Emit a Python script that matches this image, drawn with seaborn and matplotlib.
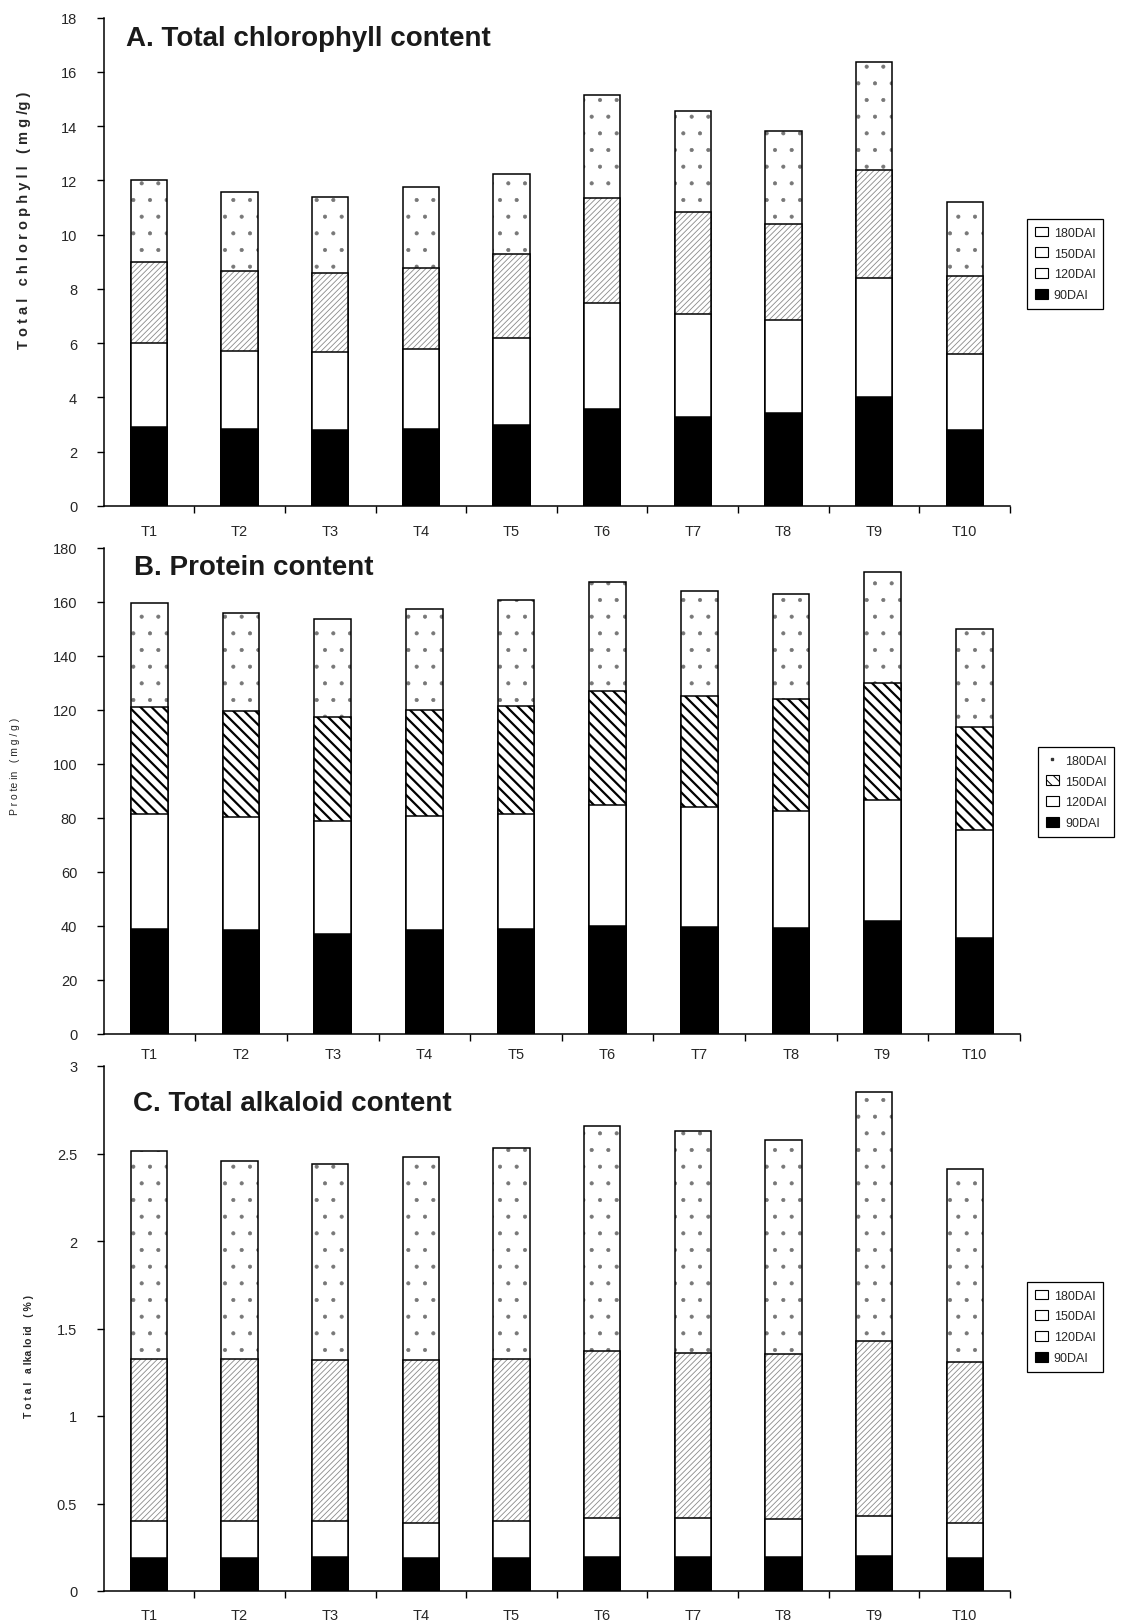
import numpy as np
import pandas as pd
import matplotlib
matplotlib.use("Agg")
import matplotlib.pyplot as plt
import seaborn as sns
from matplotlib.patches import Patch
from matplotlib.lines import Line2D

# ---------------- data ----------------
treatments = ["T1", "T2", "T3", "T4", "T5", "T6", "T7", "T8", "T9", "T10"]
stages = ["90DAI", "120DAI", "150DAI", "180DAI"]

# A. Total chlorophyll (mg/g) - stacked segment values
chl_90 = [2.90, 2.82, 2.79, 2.82, 3.00, 3.59, 3.28, 3.44, 4.00, 2.79]
chl_120 = [3.10, 2.90, 2.90, 2.98, 3.18, 3.89, 3.78, 3.43, 4.40, 2.82]
chl_150 = [3.00, 2.94, 2.90, 2.98, 3.09, 3.87, 3.78, 3.51, 4.00, 2.86]
chl_180 = [3.00, 2.90, 2.81, 2.98, 2.98, 3.80, 3.70, 3.44, 3.97, 2.75]

# B. Protein (mg/g)
pro_90 = [38.8, 38.4, 36.8, 38.4, 38.8, 39.9, 39.5, 39.1, 41.8, 35.3]
pro_120 = [42.6, 41.8, 41.9, 42.2, 42.6, 44.9, 44.5, 43.4, 44.9, 40.3]
pro_150 = [39.5, 39.5, 38.7, 39.5, 40.2, 42.2, 41.1, 41.4, 43.4, 38.0]
pro_180 = [38.7, 36.1, 36.1, 37.2, 39.2, 40.3, 38.8, 39.2, 41.0, 36.4]

# C. Total alkaloid (%)
alk_90 = [0.190, 0.190, 0.195, 0.190, 0.190, 0.195, 0.195, 0.195, 0.200, 0.190]
alk_120 = [0.210, 0.210, 0.205, 0.200, 0.210, 0.225, 0.225, 0.215, 0.230, 0.200]
alk_150 = [0.925, 0.925, 0.920, 0.930, 0.925, 0.950, 0.940, 0.945, 1.000, 0.920]
alk_180 = [1.190, 1.135, 1.120, 1.160, 1.205, 1.290, 1.270, 1.225, 1.420, 1.100]

# ---------------- style ----------------
sns.set_theme(style="white")
plt.rcParams["font.family"] = ["Liberation Sans", "DejaVu Sans"]
plt.rcParams["hatch.linewidth"] = 0.7

W, H = 1133, 1624
fig = plt.figure(figsize=(W / 100, H / 100), dpi=100)


def fx(px):
    return px / W


def fy(py):
    return 1 - py / H


ax_a = fig.add_axes([fx(103.6), fy(507), fx(1010) - fx(103.6), fy(18.6) - fy(507)])
ax_b = fig.add_axes([fx(103.6), fy(1034.6), fx(1020) - fx(103.6), fy(549) - fy(1034.6)])
ax_c = fig.add_axes([fx(103.6), fy(1592), fx(1010) - fx(103.6), fy(1067) - fy(1592)])

style_ac = [
    dict(face="black", hatch=None, hc="black", hlw=0.7),
    dict(face="white", hatch=None, hc="black", hlw=0.7),
    dict(face="white", hatch="//////", hc="#8a8a8a", hlw=0.6),
    dict(face="white", hatch=".", hc="#777777", hlw=0.5),
]
style_b = [
    dict(face="black", hatch=None, hc="black", hlw=0.7),
    dict(face="white", hatch=None, hc="black", hlw=0.7),
    dict(face="white", hatch="\\\\\\", hc="black", hlw=1.6),
    dict(face="white", hatch=".", hc="#777777", hlw=0.5),
]


def draw_panel(ax, segs, styles):
    segs = np.array(segs)
    cums = segs.cumsum(axis=0)
    for i in reversed(range(len(stages))):
        df = pd.DataFrame({"Treatment": treatments, "value": cums[i]})
        st = styles[i]
        n0 = len(ax.patches)
        with plt.rc_context({"hatch.linewidth": st["hlw"]}):
            sns.barplot(data=df, x="Treatment", y="value", order=treatments,
                        color=st["face"], width=0.4, saturation=1,
                        errorbar=None, ax=ax)
        for p in ax.patches[n0:]:
            p.set_facecolor(st["face"])
            if st["hatch"]:
                p.set_hatch(st["hatch"])
                if hasattr(p, "set_hatch_linewidth"):
                    p.set_hatch_linewidth(st["hlw"])
            p.set_edgecolor(st["hc"])
            p.set_linewidth(0)
        n1 = len(ax.patches)
        sns.barplot(data=df, x="Treatment", y="value", order=treatments,
                    color="white", width=0.4, saturation=1,
                    errorbar=None, ax=ax)
        for p in ax.patches[n1:]:
            p.set_facecolor("none")
            p.set_edgecolor("black")
            p.set_linewidth(1.1)
            p.set_hatch(None)


def style_axes(ax, ymax, yticks, yticklabels, xpad):
    ax.set_xlim(-0.5, 9.5)
    ax.set_ylim(0, ymax)
    ax.set_xlabel("")
    ax.set_ylabel("")
    for s in ["top", "right"]:
        ax.spines[s].set_visible(False)
    for s in ["left", "bottom"]:
        ax.spines[s].set_color("black")
        ax.spines[s].set_linewidth(1.1)
    ax.set_yticks(yticks)
    ax.set_yticklabels(yticklabels, fontsize=10.5)
    ax.set_xticks(range(10))
    ax.set_xticklabels(treatments, fontsize=10.5)
    ax.set_xticks(np.arange(0.5, 10.0, 1.0), minor=True)
    ax.tick_params(axis="x", which="major", length=0, pad=xpad)
    ax.tick_params(axis="x", which="minor", length=5, width=1.0, direction="out",
                   color="black", bottom=True)
    ax.tick_params(axis="y", length=5, width=1.0, direction="out", color="black",
                   left=True, pad=14)
    ax.grid(False)


draw_panel(ax_a, [chl_90, chl_120, chl_150, chl_180], style_ac)
style_axes(ax_a, 18, range(0, 19, 2), [str(v) for v in range(0, 19, 2)], 13)

draw_panel(ax_b, [pro_90, pro_120, pro_150, pro_180], style_b)
style_axes(ax_b, 180, range(0, 181, 20), [str(v) for v in range(0, 181, 20)], 10)

draw_panel(ax_c, [alk_90, alk_120, alk_150, alk_180], style_ac)
c_ticks = [0, 0.5, 1, 1.5, 2, 2.5, 3]
style_axes(ax_c, 3, c_ticks, ["0", "0.5", "1", "1.5", "2", "2.5", "3"], 12)

# titles
fig.text(fx(126), fy(46), "A. Total chlorophyll content", fontsize=20,
         fontweight="bold", color="#1a1a1a", va="baseline", ha="left")
fig.text(fx(134), fy(575), "B. Protein content", fontsize=20,
         fontweight="bold", color="#1a1a1a", va="baseline", ha="left")
fig.text(fx(133), fy(1111), "C. Total alkaloid content", fontsize=20,
         fontweight="bold", color="#1a1a1a", va="baseline", ha="left")

# y labels
fig.text(fx(24), fy(220), "T o t a l   c h l o r o p h y l l   ( m g /g )",
         rotation=90, fontsize=10.5, fontweight="bold", ha="center", va="center")
fig.text(fx(15), fy(766), "P r o te in   ( m g / g )",
         rotation=90, fontsize=7.5, ha="center", va="center")
fig.text(fx(29), fy(1357), "T o t a l   a lka lo id   ( % )",
         rotation=90, fontsize=7.5, fontweight="bold", ha="center", va="center")

# legends
labels = ["180DAI", "150DAI", "120DAI", "90DAI"]
h_ac = [
    Patch(facecolor="white", edgecolor="black", linewidth=0.8),
    Patch(facecolor="white", edgecolor="black", linewidth=0.8),
    Patch(facecolor="white", edgecolor="black", linewidth=0.8),
    Patch(facecolor="black", edgecolor="black", linewidth=0.8),
]
h_b = [
    Line2D([0], [0], marker="s", markersize=1.5, color="#333333", linestyle="none"),
    Patch(facecolor="white", edgecolor="black", hatch="\\\\\\", linewidth=0.8),
    Patch(facecolor="white", edgecolor="black", linewidth=0.8),
    Patch(facecolor="black", edgecolor="black", linewidth=0.8),
]

leg_kw = dict(fontsize=9, frameon=True, fancybox=False, edgecolor="black",
              framealpha=1, handlelength=1.1, handleheight=0.8,
              labelspacing=0.7, handletextpad=0.45, borderpad=0.6,
              borderaxespad=0, loc="upper left")
for handles, (lx, ly) in [(h_ac, (1027, 220)), (h_b, (1038, 748)), (h_ac, (1027, 1283))]:
    leg = fig.legend(handles, labels, bbox_to_anchor=(fx(lx), fy(ly)), **leg_kw)
    leg.get_frame().set_linewidth(0.9)

fig.savefig("out.png", dpi=100, facecolor="white")
